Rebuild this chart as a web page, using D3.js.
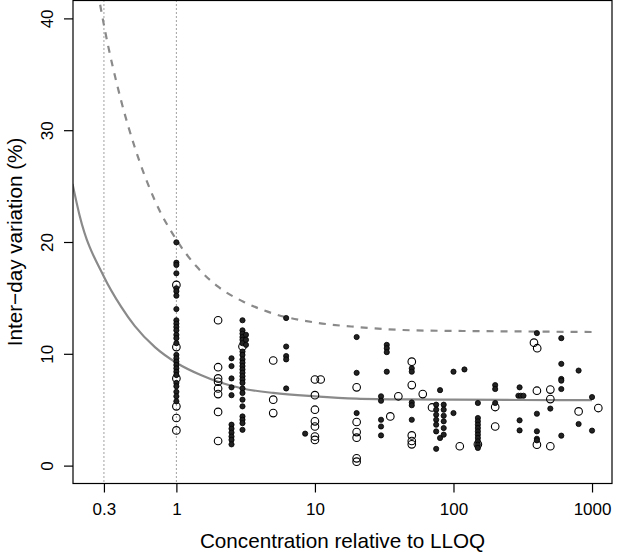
<!DOCTYPE html>
<html><head><meta charset="utf-8">
<script src="https://cdn.jsdelivr.net/npm/d3@7"></script>
<style>body{margin:0;background:#fff}svg{display:block}</style>
</head><body>
<svg id="c" width="617" height="555"></svg>
<script>
// ---- data ----
const xTicks = [0.3, 1, 10, 100, 1000];
const xTickLabels = ["0.3", "1", "10", "100", "1000"];
const yTicks = [0, 10, 20, 30, 40];
const refLines = [0.3, 1];
// model curves [concentration, CV%]
const fitSolid = [[0.178,25.2],[0.2,22.4],[0.3,16.9],[0.4,14.2],[0.5,12.5],[0.7,10.6],[1,9.2],[1.5,8.1],[2,7.5],[3,6.9],[5,6.5],[10,6.2],[20,6.0],[50,5.92],[100,5.9],[300,5.87],[1000,5.85]];
const fitDashed = [[0.26,43.7],[0.3,39.4],[0.4,32.6],[0.5,28.5],[0.7,23.7],[1,20.2],[1.4,17.8],[2,16.0],[3,14.7],[5,13.6],[10,12.8],[20,12.4],[50,12.1],[100,12.05],[300,12.0],[1000,11.95]];
// filled points [concentration, CV%]
const filledPts = [
 [1,19.97],[1,18.15],[1,17.95],[1,17.2],[1,15.86],[1,15.6],[1,15.2],[1,14.0],[1,13.0],[1,12.7],[1,12.4],[1,12.1],[1,11.7],[1,11.4],[1,10.95],[1,9.9],[1,9.6],[1,9.3],[1,9.0],[1,8.7],[1,8.4],[1,8.1],[1,7.4],[1,7.1],[1,6.6],[1,6.2],[1,5.75],
 [2.5,9.6],[2.5,8.9],[2.5,7.8],[2.5,7.0],[2.5,6.3],[2.5,3.66],[2.5,3.3],[2.5,2.95],[2.5,2.6],[2.5,2.3],[2.5,1.9],
 [3,13.0],[3,12.1],[3,11.8],[3,11.5],[3,11.25],[3,10.95],[3,10.2],[3,9.9],[3,9.5],[3,9.2],[3,8.9],[3,8.6],[3,8.3],[3,8.0],[3,7.7],[3,7.4],[3,6.9],[3,6.5],[3,5.9],[3,5.3],[3,4.4],[3,4.1],[3,3.8],[3,3.2],
 [3.18,11.7],[3.18,11.25],[3.18,10.8],
 [6.2,13.2],[6.2,10.65],[6.2,9.8],[6.2,9.5],[6.2,6.9],
 [8.5,2.86],
 [20,11.5],[20,8.3],[20,4.7],
 [30,6.2],[30,5.8],[30,4.1],[30,3.5],[30,2.7],
 [33,10.8],[33,10.5],[33,10.15],[33,8.4],
 [50,8.7],[50,8.4],[50,5.65],[50,5.4],[50,4.1],
 [75,5.45],[75,5.0],[75,4.55],[75,4.1],[75,3.66],[75,3.06],[75,1.5],
 [80,6.75],[80,2.47],
 [85,5.45],[85,5.0],[85,4.46],[85,3.96],[85,3.36],[85,2.77],
 [100,8.4],[100,4.7],[120,8.6],
 [150,5.6],[150,4.26],[150,3.96],[150,3.66],[150,3.36],[150,3.06],[150,2.77],[150,2.47],[150,2.17],[150,1.875],[150,1.58],
 [200,7.2],[200,6.85],[200,5.6],
 [300,7.0],[300,4.05],[300,3.15],[294,6.25],[306,6.25],[320,6.25],
 [400,11.85],[400,4.64],[400,3.07],[400,2.4],[400,2.26],
 [500,5.1],
 [600,11.4],[600,9.1],[600,7.75],[600,7.6],[600,6.85],[600,2.68],
 [800,8.5],[800,3.72],
 [1000,6.13],[1000,3.13]
];
// open points [concentration, CV%]
const openPts = [
 [1,16.16],[1,10.6],[1,7.8],[1,5.3],[1,4.26],[1,3.15],
 [2,13.0],[2,8.8],[2,7.8],[2,7.5],[2,6.9],[2,6.4],[2,4.8],[2,2.2],
 [3,10.65],
 [5,9.4],[5,5.9],[5,4.7],
 [10,7.7],[10,6.3],[10,5.0],[10,3.96],[10,3.5],[10,2.6],[10,2.3],[11,7.7],
 [20,7.0],[20,3.9],[20,3.0],[20,2.5],[20,0.65],[20,0.35],
 [35,4.4],[40,6.2],
 [50,9.3],[50,7.2],[50,2.7],[50,2.2],[50,1.9],
 [60,6.4],[70,5.2],[111,1.73],[150,1.9],
 [200,5.24],[200,3.5],
 [381,11.0],[402,10.5],[400,6.7],[400,1.875],
 [500,6.8],[500,5.95],[500,1.73],
 [800,4.85],[1110,5.15]
];

// ---- layout ----
const L = 73, R = 612, T = 0.5, B = 483.5;
const svg = d3.select("#c");
const lx0 = Math.log10(0.25), lx1 = Math.log10(1000), ext = 0.04*(lx1-lx0);
const x = d3.scaleLog().domain([Math.pow(10, lx0-ext), Math.pow(10, lx1+ext)]).range([L, R]);
const y = d3.scaleLinear().domain([-1.6, 41.6]).range([B, T]);

svg.append("defs").append("clipPath").attr("id","clip")
  .append("rect").attr("x",L).attr("y",T).attr("width",R-L).attr("height",B-T);

const plot = svg.append("g").attr("clip-path","url(#clip)");

// reference dotted lines
plot.selectAll("line.ref").data(refLines).join("line")
  .attr("x1", d=>x(d)).attr("x2", d=>x(d)).attr("y1", T).attr("y2", B)
  .attr("stroke","#444").attr("stroke-width",1).attr("stroke-dasharray","1,3");

const line = d3.line().x(d=>x(d[0])).y(d=>y(d[1])).curve(d3.curveMonotoneX);
plot.append("path").datum(fitSolid).attr("d", line)
  .attr("fill","none").attr("stroke","#8a8a8a").attr("stroke-width",2.2);
plot.append("path").datum(fitDashed).attr("d", line)
  .attr("fill","none").attr("stroke","#8a8a8a").attr("stroke-width",2.2).attr("stroke-dasharray","7,7");

plot.selectAll("circle.o").data(openPts).join("circle")
  .attr("cx", d=>x(d[0])).attr("cy", d=>y(d[1])).attr("r",3.8)
  .attr("fill","none").attr("stroke","#000").attr("stroke-width",1.1);
plot.selectAll("circle.f").data(filledPts).join("circle")
  .attr("cx", d=>x(d[0])).attr("cy", d=>y(d[1])).attr("r",2.6)
  .attr("fill","#222").attr("stroke","#000").attr("stroke-width",0.8);

// frame
svg.append("rect").attr("x",L).attr("y",T).attr("width",R-L).attr("height",B-T)
  .attr("fill","none").attr("stroke","#000").attr("stroke-width",1.2);

// x axis
const xa = svg.append("g").attr("transform",`translate(0,${B})`)
  .call(d3.axisBottom(x).tickValues(xTicks).tickFormat((d,i)=>xTickLabels[i]).tickSize(9).tickPadding(10));
xa.select(".domain").remove();
xa.selectAll("line").attr("stroke","#000").attr("stroke-width",1.2);
xa.selectAll("text").attr("font-family","Liberation Sans, Arial, sans-serif").attr("font-size",17).attr("fill","#000");

// y axis
const ya = svg.append("g").attr("transform",`translate(${L},0)`)
  .call(d3.axisLeft(y).tickValues(yTicks).tickSize(9).tickFormat(d3.format("d")));
ya.select(".domain").remove();
ya.selectAll("line").attr("stroke","#000").attr("stroke-width",1.2);
ya.selectAll("text")
  .attr("font-family","Liberation Sans, Arial, sans-serif").attr("font-size",17).attr("fill","#000")
  .attr("x",null).attr("dy",null)
  .attr("text-anchor","middle")
  .attr("transform","translate(-20,0) rotate(-90)");

// titles
svg.append("text").attr("x",(L+R)/2).attr("y",548)
  .attr("text-anchor","middle").attr("font-family","Liberation Sans, Arial, sans-serif").attr("font-size",20.7)
  .text("Concentration relative to LLOQ");
svg.append("text").attr("transform",`translate(22,${(T+B)/2}) rotate(-90)`)
  .attr("text-anchor","middle").attr("font-family","Liberation Sans, Arial, sans-serif").attr("font-size",20.7)
  .text("Inter\u2212day variation (%)");
</script>
</body></html>
